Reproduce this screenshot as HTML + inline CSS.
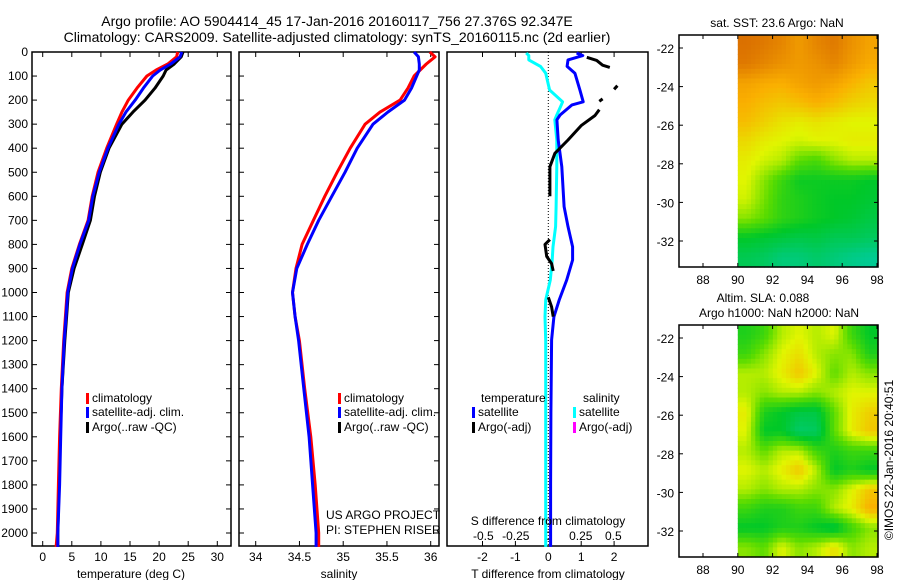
<!DOCTYPE html>
<html><head><meta charset="utf-8">
<style>
html,body{margin:0;padding:0;background:#fff;}
svg{display:block;font-family:"Liberation Sans",sans-serif;}
text{fill:#000;}
</style></head>
<body>
<svg id="c" width="900" height="580" viewBox="0 0 900 580" xmlns="http://www.w3.org/2000/svg">
<text x="337" y="26" font-size="14" text-anchor="middle">Argo profile: AO 5904414_45 17-Jan-2016 20160117_756 27.376S 92.347E</text>
<text x="337" y="42" font-size="14" text-anchor="middle">Climatology: CARS2009. Satellite-adjusted climatology: synTS_20160115.nc (2d earlier)</text>
</svg>
<script>
// ---------- data ----------
const depths = [0,20,50,75,100,150,200,250,300,400,500,600,700,800,900,1000,1100,1200,1400,1600,1800,2000,2058];
const tempClim = [23.2,23.0,21.5,19.5,17.9,16.2,14.7,13.6,12.7,11.0,9.5,8.5,7.8,6.3,5.0,4.2,3.9,3.6,3.2,2.9,2.7,2.5,2.3];
const tempSat  = [23.9,23.6,22.0,20.2,18.9,17.3,15.9,14.3,13.1,11.2,9.7,8.6,7.9,6.4,5.1,4.3,4.0,3.7,3.3,3.1,2.9,2.6,2.6];
const tempArgo = [24.1,23.8,22.6,21.2,20.7,19.3,17.6,15.5,13.6,11.4,9.9,8.9,8.2,6.8,5.4,4.4,4.1,3.8,3.3,3.0,2.8,2.6,2.6];
const salClim  = [35.99,36.05,35.95,35.88,35.81,35.74,35.65,35.42,35.25,35.08,34.93,34.79,34.66,34.53,34.46,34.42,34.45,34.50,34.56,34.63,34.68,34.72,34.72];
const salSat   = [35.81,35.86,35.87,35.87,35.84,35.78,35.70,35.51,35.34,35.16,35.02,34.87,34.72,34.59,34.47,34.42,34.45,34.49,34.55,34.61,34.65,34.69,34.69];
const dDepth  = [4,15,33,60,88,158,207,220,262,282,366,477,643,726,810,865,948,1031,1101,1197,1500,1800,2058];
const dTsat   = [0.86,1.05,0.6,0.57,0.81,0.96,1.06,0.72,0.36,0.26,0.3,0.41,0.48,0.6,0.74,0.74,0.56,0.33,0.17,0.1,0.08,0.07,0.07];
const dSsat   = [-0.17,-0.15,-0.15,-0.06,-0.02,0.01,0.11,0.1,0.065,0.05,0.065,0.065,0.06,0.056,0.036,0.03,0.015,-0.02,-0.025,-0.02,-0.02,-0.02,-0.02];
const dArgoDepth = [22,35,55,64,null,140,155,null,195,205,null,240,264,306,366,421,477,600,null,780,800,850,880,910,null,1020,1060,1100];
const dTargo     = [1.17,1.47,1.65,1.87,null,2.1,2.0,null,1.65,1.55,null,1.55,1.42,1.0,0.6,0.2,0.05,0.05,null,0.05,-0.1,-0.05,0.1,0.15,null,0.0,0.1,0.15];
const depthTicks = [0,100,200,300,400,500,600,700,800,900,1000,1100,1200,1300,1400,1500,1600,1700,1800,1900,2000];
const tTicks = [0,5,10,15,20,25,30];
const sTicks = [34,34.5,35,35.5,36];
const dTticks = [-2,-1,0,1,2];
const dSticks = [-0.5,-0.25,0,0.25,0.5];
const lonTicks = [88,90,92,94,96,98];
const latTicks = [-22,-24,-26,-28,-30,-32];
const sstGrid = [
[0.9,0.88,0.85,0.8,0.85,0.88,0.82,0.78],
[0.88,0.85,0.82,0.8,0.82,0.85,0.8,0.76],
[0.78,0.76,0.75,0.78,0.8,0.78,0.74,0.7],
[0.75,0.72,0.7,0.72,0.75,0.72,0.68,0.66],
[0.72,0.68,0.64,0.62,0.64,0.62,0.6,0.6],
[0.66,0.62,0.6,0.58,0.6,0.6,0.62,0.62],
[0.62,0.58,0.55,0.45,0.42,0.5,0.55,0.55],
[0.6,0.5,0.4,0.32,0.32,0.32,0.32,0.3],
[0.58,0.48,0.38,0.35,0.32,0.3,0.3,0.28],
[0.5,0.45,0.38,0.35,0.32,0.3,0.28,0.25],
[0.3,0.28,0.26,0.24,0.25,0.22,0.22,0.2],
[0.22,0.2,0.15,0.15,0.18,0.15,0.12,0.1]];
const slaGrid = [
[0.35,0.4,0.55,0.6,0.55,0.6,0.4,0.3],
[0.4,0.5,0.6,0.65,0.55,0.5,0.5,0.35],
[0.55,0.55,0.62,0.7,0.6,0.45,0.55,0.5],
[0.55,0.5,0.55,0.55,0.5,0.55,0.6,0.6],
[0.62,0.35,0.3,0.25,0.25,0.45,0.62,0.68],
[0.6,0.3,0.3,0.18,0.2,0.45,0.62,0.7],
[0.55,0.45,0.55,0.55,0.4,0.35,0.4,0.4],
[0.6,0.55,0.62,0.7,0.55,0.3,0.35,0.3],
[0.55,0.5,0.55,0.55,0.5,0.5,0.6,0.7],
[0.4,0.35,0.35,0.4,0.4,0.55,0.62,0.75],
[0.3,0.3,0.35,0.35,0.3,0.25,0.4,0.5],
[0.5,0.45,0.6,0.5,0.55,0.65,0.5,0.55]];

// ---------- helpers ----------
const svg = document.getElementById('c');
const NS = 'http://www.w3.org/2000/svg';
function mk(tag, attrs, parent){const e=document.createElementNS(NS,tag);for(const k in attrs)e.setAttribute(k,attrs[k]);(parent||svg).appendChild(e);return e;}
function txt(x,y,s,size,anchor,parent){const t=mk('text',{x:x,y:y,'font-size':size,'text-anchor':anchor||'middle'},parent);t.textContent=s;return t;}

const Y0=52, Y1=546;
const yD = d => Y0 + d*(533-52)/2000;

function panel(name,x0,x1){
  const g=mk('g',{});
  
  
  const r=mk('rect',{x:x0,y:Y0,width:x1-x0,height:Y1-Y0,fill:'none',stroke:'#000','stroke-width':1.5},g);
  
  
  return g;
}
function line(g,xs,ys,xf,yf,color,name,w){
  let d='',pen=false;
  for(let i=0;i<xs.length;i++){
    if(xs[i]===null||ys[i]===null){pen=false;continue;}
    d+=(pen?'L':'M')+xf(xs[i]).toFixed(1)+','+yf(ys[i]).toFixed(1);pen=true;
  }
  const p=mk('path',{d:d,fill:'none',stroke:color,'stroke-width':w||3,'stroke-linejoin':'round'},g);
  
  
  return p;
}
function legend(g,x,y,color,label,name){
  const m=mk('rect',{x:x,y:y-9,width:3,height:11,fill:color},g);
  
  
  const t=txt(x+6,y,label,12,'start',g);
  
  
}
function xticks(g,vals,xf,labelY,labels){
  vals.forEach((v,i)=>{
    const x=xf(v);
    mk('line',{x1:x,y1:Y1,x2:x,y2:Y1-5,stroke:'#000'},g);
    mk('line',{x1:x,y1:Y0,x2:x,y2:Y0+5,stroke:'#000'},g);
    if(labelY){const t=txt(x,labelY,labels?labels[i]:String(v),12,'middle',g);
      
      }
  });
}

// ---------- panel 1: temperature ----------
const xT = v => 42.7 + v*(217.3-42.7)/30;
const p1=panel('temperature-panel',32,231);
depthTicks.forEach(d=>{
  const y=yD(d);
  mk('line',{x1:32,y1:y,x2:37,y2:y,stroke:'#000'},p1);
  mk('line',{x1:226,y1:y,x2:231,y2:y,stroke:'#000'},p1);
  const t=txt(28,y+4,String(d),12,'end',p1);
  
  
});
xticks(p1,tTicks,xT,561);
line(p1,tempArgo,depths,xT,yD,'#000','temp-argo-line');
line(p1,tempClim,depths,xT,yD,'#f00','temp-climatology-line');
line(p1,tempSat,depths,xT,yD,'#00f','temp-satellite-line');
legend(p1,86,402,'#f00','climatology','legend-climatology');
legend(p1,86,416,'#00f','satellite-adj. clim.','legend-satellite');
legend(p1,86,431,'#000','Argo(..raw -QC)','legend-argo');
let t=txt(131,578,'temperature (deg C)',12,'middle',p1);



// ---------- panel 2: salinity ----------
const xS = v => 255.7 + (v-34)*87.5;
const p2=panel('salinity-panel',239,439);
depthTicks.forEach(d=>{
  const y=yD(d);
  mk('line',{x1:239,y1:y,x2:244,y2:y,stroke:'#000'},p2);
  mk('line',{x1:434,y1:y,x2:439,y2:y,stroke:'#000'},p2);
});
xticks(p2,sTicks,xS,561);
line(p2,salClim,depths,xS,yD,'#f00','salinity-climatology-line');
line(p2,salSat,depths,xS,yD,'#00f','salinity-satellite-line');
legend(p2,338,402,'#f00','climatology','legend-sal-climatology');
legend(p2,338,416,'#00f','satellite-adj. clim.','legend-sal-satellite');
legend(p2,338,431,'#000','Argo(..raw -QC)','legend-sal-argo');
t=txt(326,519,'US ARGO PROJECT',12,'start',p2);


t=txt(326,534,'PI: STEPHEN RISER',12,'start',p2);


t=txt(339,578,'salinity',12,'middle',p2);



// ---------- panel 3: differences ----------
const xDT = v => 548.3 + v*32.9;
const xDS = v => 548.3 + v*130;
const p3=panel('difference-panel',447,648);
mk('line',{x1:548.3,y1:Y0,x2:548.3,y2:Y1,stroke:'#000','stroke-dasharray':'1,2'},p3);
xticks(p3,dTticks.filter(v=>v!==0),xDT,null);
dTticks.forEach(v=>{const t=txt(xDT(v),561,String(v),12,'middle',p3);
  
  });
dSticks.forEach(v=>{const t=txt(xDS(v),540,String(v),12,'middle',p3);
  
  });
line(p3,dSsat,dDepth,xDS,yD,'#0ff','salinity-satellite-diff-line');
line(p3,dTsat,dDepth,xDT,yD,'#00f','temp-satellite-diff-line');
line(p3,dTargo,dArgoDepth,xDT,yD,'#000','temp-argo-diff-line');
t=txt(481,402,'temperature',12,'start',p3);


t=txt(583,402,'salinity',12,'start',p3);


legend(p3,472,416,'#00f','satellite','legend-t-satellite');
legend(p3,472,431,'#000','Argo(-adj)','legend-t-argo');
legend(p3,573,416,'#0ff','satellite','legend-s-satellite');
legend(p3,573,431,'#f0f','Argo(-adj)','legend-s-argo');
t=txt(548,525,'S difference from climatology',12,'middle',p3);


t=txt(548,578,'T difference from climatology',12,'middle',p3);



// ---------- maps ----------
const stops=[[0,[0,205,200]],[0.3,[0,200,40]],[0.45,[90,220,0]],[0.6,[225,245,0]],[0.75,[250,175,0]],[0.92,[215,105,0]],[1,[200,90,0]]];
function cmap(v){
  v=Math.max(0,Math.min(1,v));
  for(let i=1;i<stops.length;i++){if(v<=stops[i][0]){const a=stops[i-1],b=stops[i],f=(v-a[0])/(b[0]-a[0]);
    return 'rgb('+a[1].map((c,k)=>Math.round(c+(b[1][k]-c)*f)).join(',')+')';}}
  return 'rgb(200,90,0)';
}
function mapPanel(name,top,grid){
  const bx0=679,bx1=878,by0=top,by1=top+232;
  const xL = lon => 703 + (lon-88)*17.4;
  const yL = lat => top+13 + (-22-lat)*19.3;
  const g=mk('g',{});
  
  
  const rows=grid.length, cols=grid[0].length, sub=4;
  const gx0=xL(90), gx1=bx1, gy0=by0, gy1=by1;
  const cw=(gx1-gx0)/(cols*sub), ch=(gy1-gy0)/(rows*sub);
  for(let r=0;r<rows*sub;r++){
    const fr=Math.max(0,Math.min(rows-1,(r+0.5)/sub-0.5)), r0=Math.floor(fr), r1=Math.min(rows-1,r0+1), ar=fr-r0;
    for(let c=0;c<cols*sub;c++){
      const fc=Math.max(0,Math.min(cols-1,(c+0.5)/sub-0.5)), c0=Math.floor(fc), c1=Math.min(cols-1,c0+1), ac=fc-c0;
      const v=(grid[r0][c0]*(1-ac)+grid[r0][c1]*ac)*(1-ar)+(grid[r1][c0]*(1-ac)+grid[r1][c1]*ac)*ar;
      const cell=mk('rect',{x:(gx0+c*cw).toFixed(2),y:(gy0+r*ch).toFixed(2),width:(cw+0.6).toFixed(2),height:(ch+0.6).toFixed(2),fill:cmap(v)},g);
      
      
    }
  }
  const fr=mk('rect',{x:bx0,y:by0,width:bx1-bx0,height:by1-by0,fill:'none',stroke:'#000','stroke-width':1.5},g);
  
  
  lonTicks.forEach(l=>{const x=xL(l);
    mk('line',{x1:x,y1:by1,x2:x,y2:by1-4,stroke:'#000'},g);
    mk('line',{x1:x,y1:by0,x2:x,y2:by0+4,stroke:'#000'},g);
    const t=txt(x,by1+17,String(l),12,'middle',g);
    
    });
  latTicks.forEach(l=>{const y=yL(l);
    mk('line',{x1:bx0,y1:y,x2:bx0+4,y2:y,stroke:'#000'},g);
    mk('line',{x1:bx1,y1:y,x2:bx1-4,y2:y,stroke:'#000'},g);
    const t=txt(674,y+5,String(l),12,'end',g);
    
    });
}
mapPanel('sst-map',35,sstGrid);
mapPanel('sla-map',325,slaGrid);
t=txt(777,27,'sat. SST: 23.6 Argo: NaN',12,'middle');


t=txt(763,302,'Altim. SLA: 0.088',12,'middle');


t=txt(779,317,'Argo h1000: NaN h2000: NaN',12,'middle');


t=txt(0,0,'©IMOS 22-Jan-2016 20:40:51',12,'middle');
t.setAttribute('transform','translate(893,460) rotate(-90)');


</script>
</body></html>
